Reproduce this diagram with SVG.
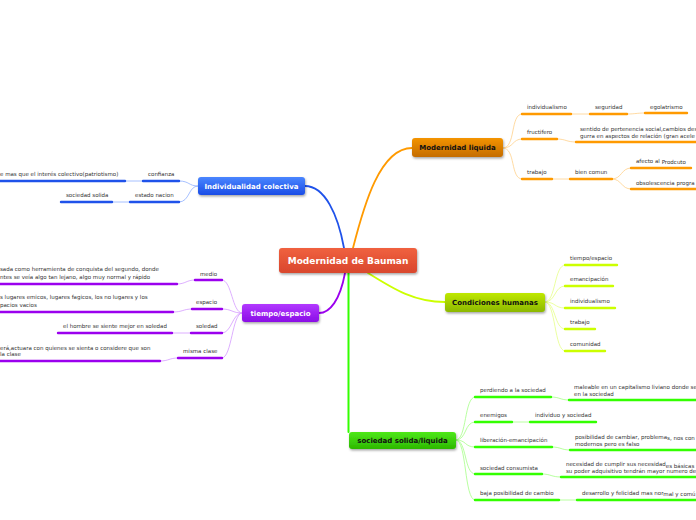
<svg xmlns="http://www.w3.org/2000/svg" width="696" height="520" viewBox="0 0 696 520">
<style>
.t{font-family:"DejaVu Sans",Verdana,sans-serif;font-size:5.5px;fill:#333}
.n{font-family:"DejaVu Sans",Verdana,sans-serif;font-weight:bold;font-size:7px;text-anchor:middle}
.w{fill:#fff}
.k{fill:#111}
.c{fill:none;stroke-linecap:round}
.m{stroke-width:1.8}
.s{stroke-width:0.8}
.u{stroke-width:2.4;stroke-linecap:round;fill:none}
.bl{stroke:#1f52ea}.blS{stroke:#8fb0ff}
.or{stroke:#ff9a00}.orS{stroke:#ffd08a}
.pu{stroke:#9b00ee}.puS{stroke:#d49bff}
.yg{stroke:#ccff00}.ygS{stroke:#e6ff88}
.gr{stroke:#33ff00}.grS{stroke:#a6ff88}
</style>
<defs>
<linearGradient id="gR" x1="0" y1="0" x2="0" y2="1"><stop offset="0" stop-color="#f0613f"/><stop offset="1" stop-color="#d9472d"/></linearGradient>
<linearGradient id="gO" x1="0" y1="0" x2="0" y2="1"><stop offset="0" stop-color="#f49400"/><stop offset="1" stop-color="#c46c00"/></linearGradient>
<linearGradient id="gB" x1="0" y1="0" x2="0" y2="1"><stop offset="0" stop-color="#4a86ff"/><stop offset="1" stop-color="#1a4ce6"/></linearGradient>
<linearGradient id="gP" x1="0" y1="0" x2="0" y2="1"><stop offset="0" stop-color="#b238ff"/><stop offset="1" stop-color="#8a0ee6"/></linearGradient>
<linearGradient id="gY" x1="0" y1="0" x2="0" y2="1"><stop offset="0" stop-color="#bfe800"/><stop offset="1" stop-color="#8cb800"/></linearGradient>
<linearGradient id="gG" x1="0" y1="0" x2="0" y2="1"><stop offset="0" stop-color="#4fe81a"/><stop offset="1" stop-color="#2cb800"/></linearGradient>
<filter id="sh" x="-10%" y="-20%" width="130%" height="160%"><feDropShadow dx="0.8" dy="1.5" stdDeviation="1" flood-color="#000" flood-opacity="0.35"/></filter>
</defs>

<g id="connectors">
<path class="c m bl" d="M305,186 C325,186 338,215 344,248"/>
<path class="c m or" d="M353,248 C364,205 380,148 412,148"/>
<path class="c m pu" d="M345,273 C340,300 330,313 319,313"/>
<path class="c m yg" d="M368,273 C395,290 415,302 445,302"/>
<path class="c gr" stroke-width="2" d="M348.5,273 L348.5,432"/>

<path class="c s blS" d="M198,186 C188,186 190,181 179,181"/>
<path class="c s blS" d="M198,186 C188,186 190,202 179,202"/>
<path class="c s blS" d="M143,181 L125,181"/>
<path class="c s blS" d="M130,202 L112,202"/>

<path class="c s orS" d="M503,148 C516,148 510,114 522,114"/>
<path class="c s orS" d="M503,148 C514,148 512,139 522,139"/>
<path class="c s orS" d="M503,148 C516,148 510,179 522,179"/>
<path class="c s orS" d="M571,114 L590,114"/>
<path class="c s orS" d="M627,114 C636,114 636,113 645,113"/>
<path class="c s orS" d="M557,139 C566,139 566,142 576,142"/>
<path class="c s orS" d="M552,179 L570,179"/>
<path class="c s orS" d="M612,179 C622,179 621,168 631,168"/>
<path class="c s orS" d="M612,179 C622,179 621,189 631,189"/>

<path class="c s puS" d="M242,313 C232,313 232,280 222,280"/>
<path class="c s puS" d="M242,313 C232,313 232,309 222,309"/>
<path class="c s puS" d="M242,313 C232,313 232,333 222,333"/>
<path class="c s puS" d="M242,313 C232,313 232,358 222,358"/>
<path class="c s puS" d="M195,280 C186,280 186,284 177,284"/>
<path class="c s puS" d="M192,309 C183,309 183,312 173,312"/>
<path class="c s puS" d="M191,333 L172,333"/>
<path class="c s puS" d="M178,358 C169,358 169,361 160,361"/>

<path class="c s ygS" d="M545,302 C556,302 554,265 565,265"/>
<path class="c s ygS" d="M545,302 C556,302 554,286 565,286"/>
<path class="c s ygS" d="M545,302 C556,302 554,308 565,308"/>
<path class="c s ygS" d="M545,302 C556,302 554,329 565,329"/>
<path class="c s ygS" d="M545,302 C556,302 554,351 565,351"/>

<path class="c s grS" d="M456,440 C467,440 464,397 475,397"/>
<path class="c s grS" d="M456,440 C467,440 464,422 475,422"/>
<path class="c s grS" d="M456,440 C467,440 464,447 475,447"/>
<path class="c s grS" d="M456,440 C467,440 464,474 475,474"/>
<path class="c s grS" d="M456,440 C467,440 464,500 475,500"/>
<path class="c s grS" d="M551,397 C560,397 560,400 569,400"/>
<path class="c s grS" d="M512,422 L530,422"/>
<path class="c s grS" d="M552,447 C561,447 561,450 570,450"/>
<path class="c s grS" d="M542,474 C551,474 551,477 561,477"/>
<path class="c s grS" d="M559,500 L577,500"/>
</g>

<g id="root">
<rect x="279" y="248" width="138" height="25" rx="3" fill="url(#gR)" filter="url(#sh)"/>
<text class="n w" x="348" y="264" style="font-size:9px">Modernidad de Bauman</text>
</g>

<g id="modernidad-liquida">
<rect x="412" y="138" width="91" height="19" rx="3" fill="url(#gO)" filter="url(#sh)"/>
<text class="n k" x="457.5" y="150">Modernidad liquida</text>
</g>
<g id="ml-individualismo"><path class="u or" d="M522,114 H571"/><text class="t" x="527" y="109">individualismo</text></g>
<g id="ml-seguridad"><path class="u or" d="M590,114 H627"/><text class="t" x="595" y="109">seguridad</text></g>
<g id="ml-egolatrismo"><path class="u or" d="M645,113 H687"/><text class="t" x="650" y="108.5">egolatrismo</text></g>
<g id="ml-fructifero"><path class="u or" d="M522,139 H557"/><text class="t" x="527" y="134">fructifero</text></g>
<g id="ml-sentido"><path class="u or" d="M576,142 H700"/><text class="t" x="580" y="131">sentido de pertenencia social,cambios des</text><text class="t" x="580" y="137.5">gurra en aspectos de relación (gran acele</text></g>
<g id="ml-trabajo"><path class="u or" d="M522,179 H552"/><text class="t" x="527" y="174">trabajo</text></g>
<g id="ml-bien-comun"><path class="u or" d="M570,179 H612"/><text class="t" x="575" y="174">bien comun</text></g>
<g id="ml-afecto"><path class="u or" d="M631,168 H691"/><text class="t" x="636" y="162.5">afecto al <tspan dy="1">Prodcuto</tspan></text></g>
<g id="ml-obsolescencia"><path class="u or" d="M631,189 H700"/><text class="t" x="636" y="185">obsolescencia progra</text></g>

<g id="individualidad-colectiva">
<rect x="198" y="177" width="107" height="18" rx="3" fill="url(#gB)" filter="url(#sh)"/>
<text class="n w" x="251.5" y="188.5">Individualidad colectiva</text>
</g>
<g id="ic-confianza"><path class="u bl" d="M143,181 H179"/><text class="t" x="148" y="175.5">confianza</text></g>
<g id="ic-interes"><path class="u bl" d="M-5,181 H125"/><text class="t" x="0" y="175.5">e mas que el interés colectivo(patriotismo)</text></g>
<g id="ic-estado"><path class="u bl" d="M130,202 H179"/><text class="t" x="135" y="197">estado nacion</text></g>
<g id="ic-sociedad"><path class="u bl" d="M61,202 H112"/><text class="t" x="66" y="197">sociedad solida</text></g>

<g id="tiempo-espacio">
<rect x="242" y="304" width="77" height="18" rx="3" fill="url(#gP)" filter="url(#sh)"/>
<text class="n w" x="280.5" y="315.5">tiempo/espacio</text>
</g>
<g id="te-medio"><path class="u pu" d="M195,280 H222"/><text class="t" x="200" y="275.5">medio</text></g>
<g id="te-medio-txt"><path class="u pu" d="M-5,284 H177"/><text class="t" x="0" y="271">sada como herramienta de conquista del segundo, donde</text><text class="t" x="0" y="279">ntes se veía algo tan lejano, algo muy normal y rápido</text></g>
<g id="te-espacio"><path class="u pu" d="M192,309 H222"/><text class="t" x="196" y="304">espacio</text></g>
<g id="te-espacio-txt"><path class="u pu" d="M-5,312 H173"/><text class="t" x="0" y="299">s lugares emicos, lugares fagicos, los no lugares y  los</text><text class="t" x="0" y="307">pacios vacios</text></g>
<g id="te-soledad"><path class="u pu" d="M191,333 H222"/><text class="t" x="196" y="328">soledad</text></g>
<g id="te-soledad-txt"><path class="u pu" d="M58,333 H172"/><text class="t" x="63" y="328">el hombre se siente mejor en soledad</text></g>
<g id="te-misma"><path class="u pu" d="M178,358 H222"/><text class="t" x="183" y="353">misma clase</text></g>
<g id="te-misma-txt"><path class="u pu" d="M-5,361 H160"/><text class="t" x="0" y="350">erá,actuara  con quienes se sienta o considere que son</text><text class="t" x="0" y="356">la clase</text></g>

<g id="condiciones-humanas">
<rect x="445" y="293" width="100" height="19" rx="3" fill="url(#gY)" filter="url(#sh)"/>
<text class="n k" x="495" y="305">Condiciones humanas</text>
</g>
<g id="ch-tiempo"><path class="u yg" d="M565,265 H617"/><text class="t" x="570" y="260">tiempo/espacio</text></g>
<g id="ch-emancipacion"><path class="u yg" d="M565,286 H613"/><text class="t" x="570" y="281">emancipación</text></g>
<g id="ch-individualismo"><path class="u yg" d="M565,308 H615"/><text class="t" x="570" y="303">individualismo</text></g>
<g id="ch-trabajo"><path class="u yg" d="M565,329 H595"/><text class="t" x="570" y="324">trabajo</text></g>
<g id="ch-comunidad"><path class="u yg" d="M565,351 H605"/><text class="t" x="570" y="346">comunidad</text></g>

<g id="sociedad-solida">
<rect x="349" y="432" width="107" height="17" rx="3" fill="url(#gG)" filter="url(#sh)"/>
<text class="n k" x="402.5" y="443">sociedad solida/liquida</text>
</g>
<g id="ss-perdiendo"><path class="u gr" d="M475,397 H551"/><text class="t" x="480" y="392">perdiendo a la sociedad</text></g>
<g id="ss-maleable"><path class="u gr" d="M569,400 H700"/><text class="t" x="574" y="389">maleable en un capitalismo liviano donde se</text><text class="t" x="574" y="395.5">en la sociedad</text></g>
<g id="ss-enemigos"><path class="u gr" d="M475,422 H512"/><text class="t" x="480" y="417">enemigos</text></g>
<g id="ss-individuo"><path class="u gr" d="M530,422 H596"/><text class="t" x="535" y="417">individuo y sociedad</text></g>
<g id="ss-liberacion"><path class="u gr" d="M475,447 H552"/><text class="t" x="480" y="442">liberación-emancipación</text></g>
<g id="ss-posibilidad"><path class="u gr" d="M570,450 H700"/><text class="t" x="575" y="438.5">posibilidad de cambiar, problema<tspan dy="1.5">s, nos con</tspan></text><text class="t" x="575" y="446">modernos pero es falso</text></g>
<g id="ss-consumista"><path class="u gr" d="M475,474 H542"/><text class="t" x="480" y="469.5">sociedad consumista</text></g>
<g id="ss-necesidad"><path class="u gr" d="M561,477 H700"/><text class="t" x="566" y="466">necesidad de cumplir sus necesidad<tspan dy="1.5">es básicas</tspan></text><text class="t" x="566" y="472.5">su poder adquisitivo  tendrán mayor numero de</text></g>
<g id="ss-baja"><path class="u gr" d="M475,500 H559"/><text class="t" x="480" y="495">baja posibilidad de cambio</text></g>
<g id="ss-desarrollo"><path class="u gr" d="M577,500 H700"/><text class="t" x="582" y="494.5">desarrollo y felicidad mas nor<tspan dy="1.5">mal y comú</tspan></text></g>
</svg>
